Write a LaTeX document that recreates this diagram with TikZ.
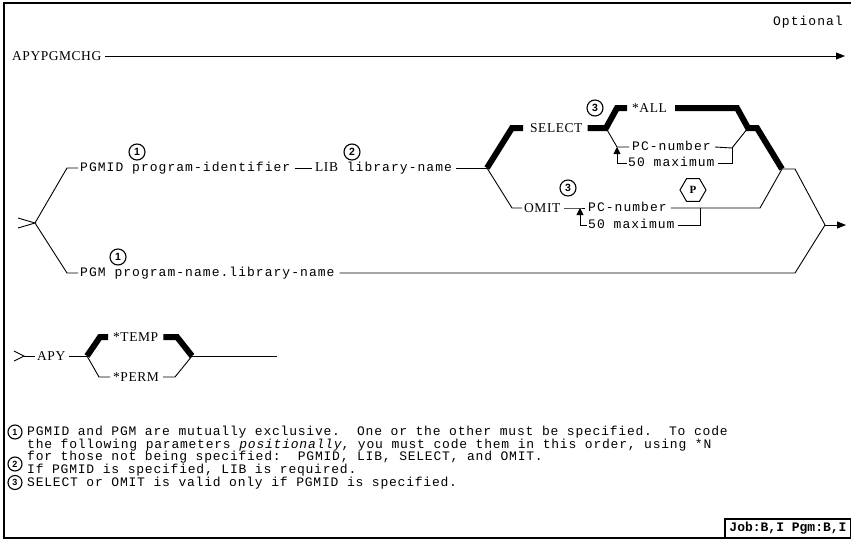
\documentclass[tikz,border=0pt]{standalone}
\usepackage{fontspec}
\setmainfont{Liberation Serif}
\newfontfamily\monof[LetterSpace=8]{Liberation Mono}
\newfontfamily\notef[LetterSpace=6]{Liberation Mono}
\newfontfamily\jobf{Liberation Mono}
\newfontfamily\kwf[LetterSpace=4]{Liberation Serif}
\newfontfamily\numf{Liberation Sans}
\usetikzlibrary{arrows.meta,shapes.geometric}
\begin{document}
\begin{tikzpicture}[x=1pt,y=-1pt,
  thinline/.style={line width=0.9pt},
  thickline/.style={line width=6pt, line join=miter},
  frameline/.style={line width=1.5pt},
  txt/.style={inner sep=0pt, anchor=west, text height=7.6pt, text depth=0pt,
    font=\monof\fontsize{13}{15}\selectfont},
  note/.style={inner sep=0pt, anchor=west, text height=7.6pt, text depth=0pt,
    font=\notef\fontsize{13}{14}\selectfont},
  kw/.style={inner sep=0pt, anchor=west, text height=9pt, text depth=0pt,
    font=\kwf\fontsize{13.5}{15}\selectfont},
  num/.style={circle, draw, line width=1.1pt, minimum size=16pt, inner sep=0pt,
    font=\numf\bfseries\fontsize{10.5}{10.5}\selectfont},
  notenum/.style={circle, draw, line width=1.1pt, minimum size=14pt, inner sep=0pt,
    font=\numf\bfseries\fontsize{9}{9}\selectfont},
  hexa/.style={regular polygon, regular polygon sides=6, draw, line width=1pt,
    minimum size=26pt, inner sep=0pt, font=\bfseries\fontsize{11}{11}\selectfont},
  tipend/.style={-{Triangle[length=9pt,width=7pt]}},
  uptip/.style={-{Triangle[length=7pt,width=7pt]}},
]
\useasboundingbox (0,0) rectangle (851,543);

% frame
\coordinate (fTL) at (4,3);
\coordinate (fTR) at (851,3);
\coordinate (fBL) at (4,538);
\coordinate (fBR) at (851,538);
\draw[frameline] (fTR) -- (fTL) -- (fBL) -- (fBR);
\node[draw, line width=1.3pt, minimum width=126pt, minimum height=19pt, inner sep=0pt,
  font=\jobf\bfseries\fontsize{13}{15}\selectfont] (job) at (788,528.5) {Job:B,I Pgm:B,I};

% top line
\node[txt, anchor=east] (opt) at (843,22) {Optional};
\node[kw] (apypgm) at (12,56) {APYPGMCHG};
\coordinate (optend) at (845,56);
\draw[thinline, tipend] ([xshift=4pt]apypgm.east) -- (optend);

% main diagram, left part
\coordinate (m0a) at (18,218);
\coordinate (m0) at (35,223);
\coordinate (m0b) at (18,228);
\coordinate (up1) at (67,168);
\coordinate (lo1) at (67,273);
\draw[thinline] (m0a) -- (m0) -- (m0b);
\node[txt] (pgmid) at (80,168) {PGMID program-identifier};
\node[txt] (pgmtxt) at (80,273) {PGM program-name.library-name};
\draw[thinline] (m0) -- (up1) -- ([xshift=-2pt]pgmid.west);
\draw[thinline] (m0) -- (lo1) -- ([xshift=-2pt]pgmtxt.west);
\node[num] (n1a) at (137,152) {1};
\node[num] (n1b) at (118,257) {1};
\node[txt] (lib) at (315,168) {{\kwf\fontsize{13.5}{15}\selectfont LIB} library-name};
\node[num] (n2) at (352,152) {2};
\draw[thinline] ([xshift=4pt]pgmid.east) -- ([xshift=-3pt]lib.west);
\coordinate (br1) at (487,168);
\draw[thinline] ([xshift=4pt]lib.east) -- (br1);

% SELECT branch
\coordinate (s1) at (512,128);
\coordinate (s1e) at (523,128);
\node[kw] (select) at (530,128) {SELECT};
\coordinate (s2) at (606,128);
\coordinate (s3) at (617,108);
\coordinate (s3e) at (627,108);
\node[kw] (all) at (632,108) {*ALL};
\node[num] (n3a) at (595,108) {3};
\coordinate (a2) at (737,108);
\coordinate (a3) at (748,128);
\coordinate (a4) at (757,128);
\coordinate (j1) at (782,169);
\draw[thickline] (br1) -- (s1) -- (s1e);
\draw[thickline] ([xshift=5pt]select.east) -- (s2) -- (s3) -- (s3e);
\draw[thickline] ([xshift=8pt]all.east) -- (a2) -- (a3) -- (a4) -- (j1);
\coordinate (p1) at (617,147);
\node[txt] (pcs) at (632,147) {PC-number};
\draw[thinline] (s2) -- (p1) -- ([xshift=-3pt]pcs.west);
\coordinate (pb1) at (732,148);
\draw[thinline] ([xshift=4pt]pcs.east) -- (pb1) -- (a3);
\coordinate (ps) at (617,163);
\node[txt] (maxs) at (628,163) {50 maximum};
\draw[thinline, uptip] (ps) -- (p1);
\draw[thinline] (ps) -- ([xshift=-1pt]maxs.west);
\draw[thinline] ([xshift=3pt]maxs.east) -| (pb1);

% OMIT branch
\coordinate (o1) at (512,208);
\node[kw] (omit) at (524,208) {OMIT};
\node[num] (n3b) at (568,188) {3};
\coordinate (p2) at (580,208);
\node[txt] (pco) at (588,208) {PC-number};
\draw[thinline] (br1) -- (o1) -- ([xshift=-2pt]omit.west);
\draw[thinline] ([xshift=3pt]omit.east) -- (p2) -- ([xshift=-3pt]pco.west);
\coordinate (ob) at (700,208);
\coordinate (o2) at (760,208);
\draw[thinline] ([xshift=4pt]pco.east) -- (o2) -- (j1);
\coordinate (po) at (580,225);
\node[txt] (maxo) at (588,225) {50 maximum};
\draw[thinline, uptip] (po) -- (p2);
\draw[thinline] (po) -- ([xshift=-1pt]maxo.west);
\draw[thinline] ([xshift=3pt]maxo.east) -| (ob);
\node[hexa] (hexP) at (693,190) {P};

% right part
\coordinate (j2) at (795,169);
\coordinate (j3) at (825,225);
\coordinate (ex) at (846,225);
\coordinate (j4) at (795,273);
\draw[thinline] (j1) -- (j2) -- (j3);
\draw[thinline, tipend] (j3) -- (ex);
\draw[thinline] ([xshift=5pt]pgmtxt.east) -- (j4) -- (j3);

% APY diagram
\coordinate (a0a) at (14,351);
\coordinate (a0) at (24,356);
\coordinate (a0b) at (14,361);
\draw[thinline] (a0a) -- (a0) -- (a0b);
\node[kw] (apy) at (37,356) {APY};
\draw[thinline] (a0) -- ([xshift=-2pt]apy.west);
\coordinate (t0) at (87,356);
\draw[thinline] ([xshift=4pt]apy.east) -- (t0);
\coordinate (t1) at (100,337);
\coordinate (t1e) at (108,337);
\node[kw] (temp) at (113,337) {*TEMP};
\coordinate (t2) at (177,337);
\coordinate (t3) at (192,356);
\coordinate (t4) at (277,356);
\draw[thickline] (t0) -- (t1) -- (t1e);
\draw[thickline] ([xshift=5pt]temp.east) -- (t2) -- (t3);
\draw[thinline] (t3) -- (t4);
\coordinate (q1) at (99,377);
\node[kw] (perm) at (113,377) {*PERM};
\coordinate (q2) at (175,377);
\draw[thinline] (t0) -- (q1) -- ([xshift=-3pt]perm.west);
\draw[thinline] ([xshift=4pt]perm.east) -- (q2) -- (t3);

% notes
\node[notenum] (c1) at (15,432) {1};
\node[note] (l1) at (27,432) {PGMID and PGM are mutually exclusive.\ \ One or the other must be specified.\ \ To code};
\node[note] (l2) at (27,444.5) {the following parameters \textit{positionally}, you must code them in this order, using *N};
\node[note] (l3) at (27,457) {for those not being specified:\ \ PGMID, LIB, SELECT, and OMIT.};
\node[notenum] (c2) at (15,464) {2};
\node[note] (l4) at (27,470) {If PGMID is specified, LIB is required.};
\node[notenum] (c3) at (15,482.5) {3};
\node[note] (l5) at (27,482.5) {SELECT or OMIT is valid only if PGMID is specified.};
\end{tikzpicture}
\end{document}
